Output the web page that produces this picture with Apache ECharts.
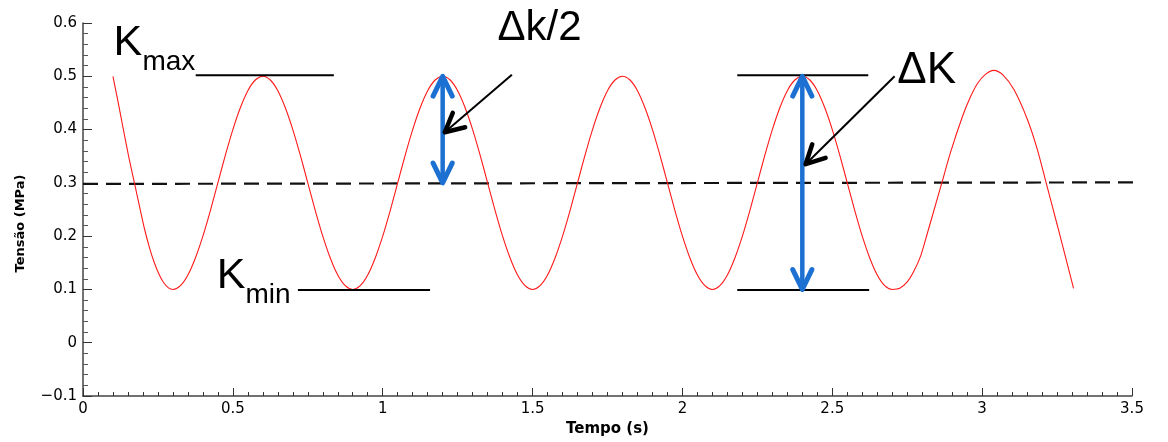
<!DOCTYPE html>
<html>
<head>
<meta charset="utf-8">
<script src="https://cdn.jsdelivr.net/npm/echarts@6/dist/echarts.min.js"></script>
<style>
  html, body { margin: 0; padding: 0; background: #fff; }
  #chart { width: 1168px; height: 442px; }
</style>
</head>
<body>
<div id="chart"></div>
<script>
// Stress signal: time (s) and stress (MPa)
const timeS = [
  0.100, 0.117, 0.134, 0.153, 0.173, 0.190, 0.206, 0.222, 0.238, 0.254, 0.270, 0.285,
  0.300, 0.325, 0.350, 0.375, 0.400, 0.425, 0.450, 0.475, 0.500, 0.525, 0.550, 0.575,
  0.600, 0.625, 0.650, 0.675, 0.700, 0.725, 0.750, 0.775, 0.800, 0.825, 0.850, 0.875,
  0.900, 0.925, 0.950, 0.975, 1.000, 1.025, 1.050, 1.075, 1.100, 1.125, 1.150, 1.175,
  1.200, 1.225, 1.250, 1.275, 1.300, 1.325, 1.350, 1.375, 1.400, 1.425, 1.450, 1.475,
  1.500, 1.525, 1.550, 1.575, 1.600, 1.625, 1.650, 1.675, 1.700, 1.725, 1.750, 1.775,
  1.800, 1.825, 1.850, 1.875, 1.900, 1.925, 1.950, 1.975, 2.000, 2.025, 2.050, 2.075,
  2.100, 2.125, 2.150, 2.175, 2.200, 2.225, 2.250, 2.275, 2.300, 2.325, 2.350, 2.375,
  2.400, 2.425, 2.450, 2.475, 2.500, 2.525, 2.550, 2.575, 2.600, 2.625, 2.650, 2.675,
  2.700, 2.725, 2.750, 2.772, 2.795, 2.817, 2.840, 2.865, 2.895, 2.934, 2.960, 2.984,
  3.010, 3.039, 3.070, 3.106, 3.151, 3.184, 3.214, 3.251, 3.305
];
const stressMPa = [
  0.500, 0.452, 0.402, 0.348, 0.296, 0.252, 0.212, 0.178, 0.150, 0.128, 0.112, 0.103,
  0.100, 0.107, 0.127, 0.159, 0.200, 0.248, 0.300, 0.352, 0.400, 0.441, 0.473, 0.493,
  0.500, 0.493, 0.473, 0.441, 0.400, 0.352, 0.300, 0.248, 0.200, 0.159, 0.127, 0.107,
  0.100, 0.107, 0.127, 0.159, 0.200, 0.248, 0.300, 0.352, 0.400, 0.441, 0.473, 0.493,
  0.500, 0.493, 0.473, 0.441, 0.400, 0.352, 0.300, 0.248, 0.200, 0.159, 0.127, 0.107,
  0.100, 0.107, 0.127, 0.159, 0.200, 0.248, 0.300, 0.352, 0.400, 0.441, 0.473, 0.493,
  0.500, 0.493, 0.473, 0.441, 0.400, 0.352, 0.300, 0.248, 0.200, 0.159, 0.127, 0.107,
  0.100, 0.107, 0.127, 0.159, 0.200, 0.248, 0.300, 0.352, 0.400, 0.441, 0.473, 0.493,
  0.500, 0.493, 0.473, 0.441, 0.400, 0.352, 0.300, 0.248, 0.200, 0.159, 0.127, 0.107,
  0.100, 0.102, 0.114, 0.134, 0.163, 0.205, 0.250, 0.299, 0.358, 0.424, 0.460, 0.486,
  0.503, 0.511, 0.502, 0.475, 0.419, 0.363, 0.299, 0.220, 0.102
];

// Mean stress reference (dashed), runs past the right end of the axis
const meanTime = [0, 3.62];
const meanStress = [0.298, 0.301];

// Axis ticks
const xTicks = [0, 0.5, 1, 1.5, 2, 2.5, 3, 3.5];
const yTicks = [-0.1, 0, 0.1, 0.2, 0.3, 0.4, 0.5, 0.6];

// Horizontal level marks: [xFrom, xTo, level]
const levelFrom = [0.376, 0.717, 2.183, 2.183];
const levelTo   = [0.837, 1.158, 2.620, 2.623];
const levelY    = [0.502, 0.099, 0.502, 0.099];

// Double-headed range arrows: [x, top, bottom]
const rangeX      = [1.20, 2.40];
const rangeTop    = [0.50, 0.50];
const rangeBottom = [0.30, 0.10];

// Pointer arrows: tail -> head
const pointerTailX = [1.431, 2.708];
const pointerTailY = [0.503, 0.500];
const pointerHeadX = [1.207, 2.411];
const pointerHeadY = [0.395, 0.335];

// Annotation text anchored at the left / middle of the main glyphs
const noteMain = ['K', 'K', '\u0394k/2', '\u0394K'];
const noteSub  = ['max', 'min', '', ''];
const noteX    = [0.102, 0.446, 1.383, 2.717];
const noteY    = [0.562, 0.124, 0.590, 0.510];
const noteSize = [43, 43, 42, 44];

const curveData = timeS.map((t, i) => [t, stressMPa[i]]);
const meanData = meanTime.map((t, i) => [t, meanStress[i]]);
const levelData = levelFrom.map((a, i) => [a, levelY[i], levelTo[i], levelY[i]]);
const rangeData = rangeX.map((x, i) => [x, rangeTop[i], x, rangeBottom[i]]);
const pointerData = pointerTailX.map((x, i) => [x, pointerTailY[i], pointerHeadX[i], pointerHeadY[i]]);
const noteData = noteX.map((x, i) => [x, noteY[i], i]);

const BLUE = '#1c70d2';

// open "V" arrow head at tip, opening back along (dx, dy)
function chevron(tip, dx, dy, len, spread, width, color) {
  const n = Math.hypot(dx, dy);
  const ux = dx / n, uy = dy / n;
  const arm = (s) => {
    const c = Math.cos(s), si = Math.sin(s);
    return [tip[0] + len * (ux * c - uy * si), tip[1] + len * (ux * si + uy * c)];
  };
  return {
    type: 'polyline',
    shape: { points: [arm(spread), tip, arm(-spread)] },
    style: { stroke: color, lineWidth: width, fill: null, lineCap: 'round', lineJoin: 'round' }
  };
}

function renderLevel(params, api) {
  const a = api.coord([api.value(0), api.value(1)]);
  const b = api.coord([api.value(2), api.value(3)]);
  return {
    type: 'line',
    shape: { x1: a[0], y1: a[1], x2: b[0], y2: b[1] },
    style: { stroke: '#000', lineWidth: 2 }
  };
}

function renderRange(params, api) {
  const top = api.coord([api.value(0), api.value(1)]);
  const bot = api.coord([api.value(2), api.value(3)]);
  return {
    type: 'group',
    children: [
      { type: 'line', shape: { x1: top[0], y1: top[1] + 2, x2: bot[0], y2: bot[1] - 2 },
        style: { stroke: BLUE, lineWidth: 4.5 } },
      chevron(top, 0, 1, 22, 0.45, 5, BLUE),
      chevron(bot, 0, -1, 22, 0.45, 5, BLUE)
    ]
  };
}

function renderPointer(params, api) {
  const tail = api.coord([api.value(0), api.value(1)]);
  const head = api.coord([api.value(2), api.value(3)]);
  return {
    type: 'group',
    children: [
      { type: 'line', shape: { x1: tail[0], y1: tail[1], x2: head[0], y2: head[1] },
        style: { stroke: '#000', lineWidth: 2 } },
      chevron(head, tail[0] - head[0], tail[1] - head[1], 21, 0.47, 4.5, '#000')
    ]
  };
}

function renderNote(params, api) {
  const p = api.coord([api.value(0), api.value(1)]);
  const i = api.value(2);
  const size = noteSize[i];
  const children = [{
    type: 'text', x: p[0], y: p[1],
    style: { text: noteMain[i], font: size + 'px "Liberation Sans", Arial, sans-serif',
             fill: '#000', align: 'left', verticalAlign: 'middle' }
  }];
  if (noteSub[i]) {
    children.push({
      type: 'text', x: p[0] + size * 0.67, y: p[1] + 19,
      style: { text: noteSub[i], font: '28px "Liberation Sans", Arial, sans-serif',
               fill: '#000', align: 'left', verticalAlign: 'middle' }
    });
  }
  return { type: 'group', children };
}

const fmt = (v) => {
  const r = +v.toFixed(2);
  return r < 0 ? '\u2212' + Math.abs(r) : String(r);
};

const chart = echarts.init(document.getElementById('chart'), null, { renderer: 'canvas' });
chart.setOption({
  animation: false,
  backgroundColor: '#fff',
  grid: { left: 83, right: 36, top: 23, bottom: 43, containLabel: false },
  xAxis: {
    type: 'value',
    min: xTicks[0], max: xTicks[xTicks.length - 1], interval: 0.5,
    name: 'Tempo (s)', nameLocation: 'middle', nameGap: 26,
    nameTextStyle: { fontFamily: 'DejaVu Sans', fontWeight: 'bold', fontSize: 15, color: '#000' },
    axisLine: { show: true, onZero: false, lineStyle: { color: '#444', width: 1.5 } },
    axisTick: { show: true, inside: true, length: 8, lineStyle: { color: '#333', width: 1 } },
    minorTick: { show: true, splitNumber: 10, length: 4, lineStyle: { color: '#333', width: 1 } },
    axisLabel: { fontFamily: 'DejaVu Sans', fontSize: 15, color: '#000', margin: 6, formatter: fmt },
    splitLine: { show: false }
  },
  yAxis: {
    type: 'value',
    min: yTicks[0], max: yTicks[yTicks.length - 1], interval: 0.1,
    name: 'Tensão (MPa)', nameLocation: 'middle', nameGap: 56,
    nameTextStyle: { fontFamily: 'DejaVu Sans', fontWeight: 'bold', fontSize: 13, color: '#000',
                     padding: [0, 28, 0, 0] },
    axisLine: { show: true, onZero: false, lineStyle: { color: '#444', width: 1.5 } },
    axisTick: { show: true, inside: true, length: 9, lineStyle: { color: '#333', width: 1 } },
    minorTick: { show: true, splitNumber: 5, length: 5, lineStyle: { color: '#555', width: 1 } },
    axisLabel: { fontFamily: 'DejaVu Sans', fontSize: 15, color: '#000', margin: 6, formatter: fmt },
    splitLine: { show: false }
  },
  series: [
    {
      name: 'mean', type: 'line', data: meanData, clip: false, symbol: 'none',
      lineStyle: { color: '#111', width: 2.2, type: [15, 8] }, z: 2
    },
    {
      name: 'stress', type: 'line', data: curveData, symbol: 'none', smooth: 0.3,
      lineStyle: { color: '#ff1a1a', width: 1.1 }, z: 3
    },
    {
      name: 'levels', type: 'custom', data: levelData, renderItem: renderLevel,
      encode: { x: [0, 2], y: [1, 3] }, z: 4
    },
    {
      name: 'ranges', type: 'custom', data: rangeData, renderItem: renderRange,
      encode: { x: [0, 2], y: [1, 3] }, z: 5
    },
    {
      name: 'pointers', type: 'custom', data: pointerData, renderItem: renderPointer,
      encode: { x: [0, 2], y: [1, 3] }, z: 6
    },
    {
      name: 'notes', type: 'custom', data: noteData, renderItem: renderNote,
      encode: { x: 0, y: 1 }, z: 7
    }
  ]
});
</script>
</body>
</html>
